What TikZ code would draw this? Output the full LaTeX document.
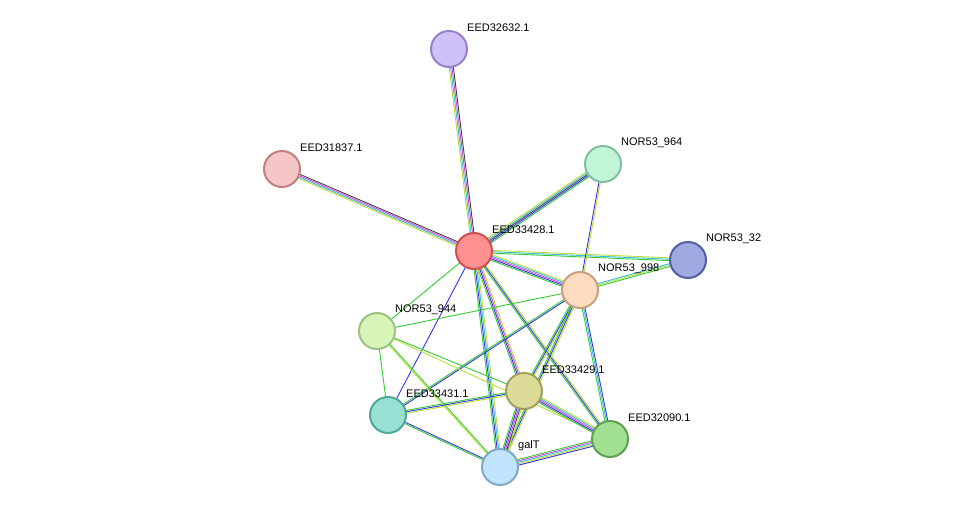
\documentclass[tikz,border=0pt]{standalone}
\usepackage{fontspec}
\setmainfont{Liberation Sans}
\usetikzlibrary{calc}
\definecolor{eg}{HTML}{33CC33}
\definecolor{eb}{HTML}{3333EE}
\definecolor{ek}{HTML}{404040}
\definecolor{em}{HTML}{DD44DD}
\definecolor{ec}{HTML}{33BBDD}
\definecolor{ey}{HTML}{BBDD33}
\newcommand\medge[3]{%
  \xdef\nn{0}%
  \foreach \c in {#3}{\xdef\nn{\the\numexpr\nn+1\relax}}%
  \foreach \c [count=\i] in {#3}{%
    \pgfmathsetmacro\o{(\i-1-(\nn-1)/2)*1.4}%
    \draw[draw=\c,line width=0.9pt] ($(#1)!\o pt!90:(#2)$) -- ($(#2)!\o pt!-90:(#1)$);}}
\tikzset{prot/.style 2 args={circle,minimum size=36pt,inner sep=0pt,line width=2pt,fill=#1,draw=#2},
 lab/.style={anchor=west,font=\fontsize{11}{13}\selectfont,inner sep=0pt}}
\definecolor{fa}{HTML}{D0C0F8}\definecolor{ba}{HTML}{9980CC}
\definecolor{fb}{HTML}{F5C6C6}\definecolor{bb}{HTML}{C08080}
\definecolor{fc}{HTML}{C0F5D8}\definecolor{bc}{HTML}{80C0A0}
\definecolor{fd}{HTML}{FF9090}\definecolor{bd}{HTML}{D05050}
\definecolor{fe}{HTML}{A0A8E0}\definecolor{be}{HTML}{5060A8}
\definecolor{ff}{HTML}{FDDCC0}\definecolor{bf}{HTML}{C8A080}
\definecolor{fg}{HTML}{D8F5B8}\definecolor{bg}{HTML}{A0C080}
\definecolor{fh}{HTML}{DCDC98}\definecolor{bh}{HTML}{A0A060}
\definecolor{fi}{HTML}{98E0D4}\definecolor{bi}{HTML}{50A898}
\definecolor{fj}{HTML}{A0E090}\definecolor{bj}{HTML}{60A050}
\definecolor{fk}{HTML}{C0E4FC}\definecolor{bk}{HTML}{80A8C8}
\begin{document}
\begin{tikzpicture}[x=1pt,y=-1pt]
\useasboundingbox (0,0) rectangle (975,514);
\coordinate (a) at (449,49);
\coordinate (b) at (282,169);
\coordinate (c) at (603,164);
\coordinate (d) at (474,251);
\coordinate (e) at (688,260);
\coordinate (f) at (580,290);
\coordinate (g) at (377,331);
\coordinate (h) at (524,391);
\coordinate (i) at (388,415);
\coordinate (j) at (610,439);
\coordinate (k) at (500,467);
\medge{d}{a}{ek,em,ec,ey}
\medge{d}{b}{ek,em,ec,ey}
\medge{d}{c}{eg,eb,ek,ec,ey}
\medge{d}{e}{eg,ec,ey}
\medge{d}{f}{eg,eb,em,ec,ey}
\medge{d}{g}{eg}
\medge{d}{h}{eg,eb,em,ey}
\medge{d}{i}{eb}
\medge{d}{j}{eg,eb,ey}
\medge{d}{k}{eg,eb,ec,ey}
\medge{c}{f}{eb,ey}
\medge{f}{e}{eg,ey,ec}
\medge{f}{g}{eg}
\medge{f}{h}{eg,eb,ey}
\medge{f}{i}{eg,eb}
\medge{f}{j}{eg,ec,eb}
\medge{f}{k}{eg,eb,ey}
\medge{g}{h}{eg}
\medge{g}{i}{eg}
\medge{g}{k}{ey,eg}
\medge{g}{j}{ey}
\medge{h}{i}{eg,eb,ey}
\medge{h}{j}{eg,eb,em,ec,ey}
\medge{h}{k}{eg,eb,em,ek,ey}
\medge{i}{k}{eg,eb}
\medge{j}{k}{eg,em,ec,ey,eb}
\foreach \p/\t in {a/EED32632.1,b/EED31837.1,c/NOR53\_964,d/EED33428.1,e/NOR53\_32,f/NOR53\_998,g/NOR53\_944,h/EED33429.1,i/EED33431.1,j/EED32090.1,k/galT}{
  \node[prot={f\p}{b\p}] (n\p) at (\p) {};
  \node[lab] (l\p) at ($(\p)+(18,-21)$) {\t};
}
\end{tikzpicture}
\end{document}
